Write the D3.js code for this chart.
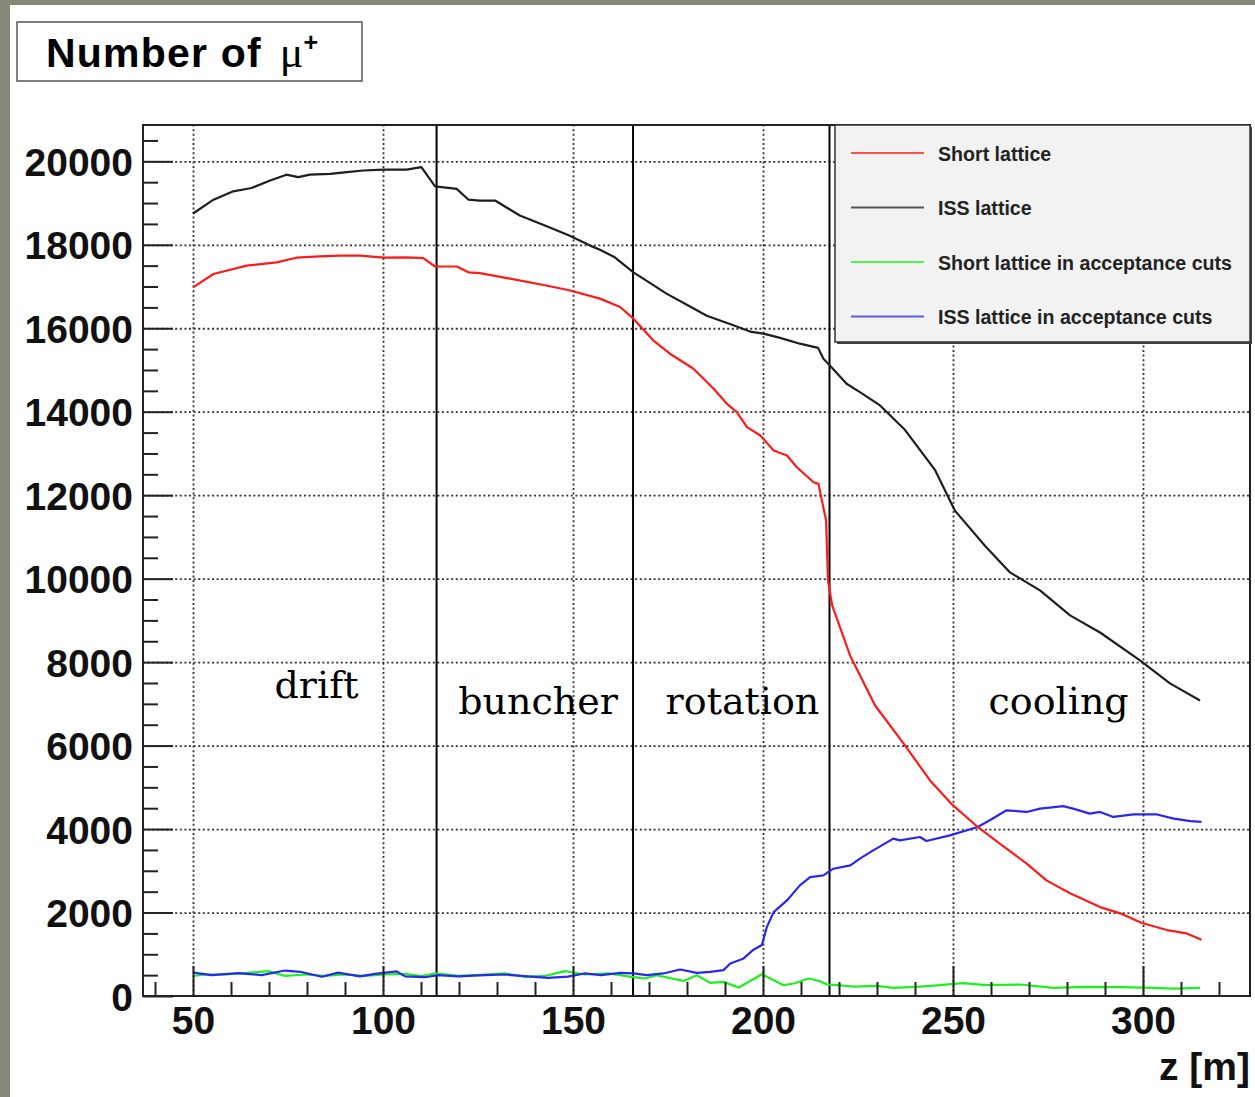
<!DOCTYPE html>
<html>
<head>
<meta charset="utf-8">
<script src="https://cdn.jsdelivr.net/npm/d3@7/dist/d3.min.js"></script>
<style>
    body { margin: 0; background: #fff; }
    svg { display: block; }
    .tick-label { font-family: "Liberation Sans", Arial, sans-serif; font-weight: bold; fill: #111; }
    .region { font-family: "DejaVu Serif", serif; font-size: 38px; fill: #000; }
    .legend-text { font-family: "Liberation Sans", Arial, sans-serif; font-weight: bold; font-size: 19.6px; fill: #222; }
</style>
</head>
<body>
<svg id="chart"></svg>
<script>
// Series: z position [m] and number of mu+
const shortZ = [50, 55.4, 64.1, 72, 77.2, 83.4, 88.7, 94, 100.1, 106.2, 110.6, 113.7, 119.4, 122.5, 125.5, 133.4, 142.6, 149, 157.1, 162.4, 165.9, 171.1, 175.5, 181.7, 187, 190.5, 193.1, 195.8, 199.3, 202.8, 206.3, 208.9, 213.3, 214.6, 215.5, 216.6, 217.1, 218.2, 222.9, 229.5, 237.4, 243.9, 249.5, 256.5, 262.3, 269.4, 274.6, 280.8, 288.7, 294, 299.7, 306.3, 311.5, 315.4];
const shortN = [16980, 17300, 17500, 17580, 17690, 17720, 17740, 17740, 17690, 17700, 17680, 17480, 17480, 17340, 17320, 17190, 17030, 16910, 16710, 16510, 16230, 15710, 15390, 15030, 14550, 14190, 13990, 13630, 13430, 13070, 12950, 12670, 12310, 12270, 11870, 11400, 9960, 9360, 8160, 6960, 6000, 5170, 4610, 4050, 3650, 3170, 2770, 2460, 2130, 1980, 1750, 1580, 1500, 1350];

const issZ = [50, 55.4, 60.6, 65.4, 70.3, 74.6, 77.7, 80.8, 86.1, 90.5, 94.8, 100, 106.2, 110.1, 113.7, 119.4, 122.5, 125.5, 129.5, 136, 142.6, 149, 154.5, 157.1, 161, 165.9, 168.5, 174.6, 180.8, 185.2, 192.2, 196.6, 200.1, 204.5, 209.7, 214.5, 215.9, 217.6, 222, 225.5, 230.8, 237.4, 245.3, 250.5, 258.4, 265, 272.9, 280.8, 288.7, 299.2, 307.1, 315];
const issN = [18750, 19080, 19280, 19360, 19540, 19680, 19620, 19680, 19700, 19740, 19780, 19800, 19800, 19860, 19400, 19340, 19080, 19060, 19060, 18700, 18460, 18220, 17980, 17880, 17700, 17340, 17190, 16830, 16520, 16300, 16070, 15920, 15870, 15770, 15630, 15530, 15270, 15110, 14670, 14470, 14150, 13560, 12600, 11630, 10790, 10150, 9720, 9120, 8710, 8040, 7490, 7080];

const shortCutZ = [50.1, 53.2, 58.4, 62.8, 69.8, 74.2, 79.5, 84.7, 90, 95.3, 100.5, 105.8, 110.2, 113.7, 119.8, 126.8, 132.1, 137.4, 142.6, 147.9, 153.2, 159.3, 165.4, 168.9, 172, 179.1, 182.6, 186.1, 189.6, 193.6, 199.7, 205.4, 208.1, 212, 215, 216.9, 219.5, 223.8, 229.9, 234.3, 240.4, 246.6, 252.7, 258.9, 267.6, 276.4, 285.2, 294, 302.7, 308, 315];
const shortCutN = [480, 515, 515, 540, 595, 480, 515, 480, 515, 480, 515, 530, 480, 545, 480, 515, 540, 460, 480, 595, 515, 540, 460, 420, 498, 362, 498, 314, 338, 203, 522, 259, 299, 419, 354, 275, 260, 227, 243, 195, 219, 259, 307, 259, 275, 195, 219, 211, 195, 179, 195];

const issCutZ = [50.1, 54.9, 61.9, 68.1, 74.2, 78.2, 83.9, 88.2, 93.9, 97.9, 103.6, 105.8, 111, 114.5, 119.8, 126.8, 132, 136.4, 143.4, 148.6, 153, 157.4, 162.4, 165.9, 169.4, 173.8, 178.2, 182.6, 186.1, 189.6, 191.4, 194.9, 197.5, 199.7, 201, 202.8, 206.3, 209.7, 212.4, 215.9, 218.5, 223, 225.5, 229, 234.3, 236, 241.3, 243, 249.2, 256.5, 259.7, 264.1, 269.4, 272.9, 279, 281.6, 286, 288.7, 292.2, 297.5, 303.7, 308.1, 312.5, 315.4];
const issCutN = [560, 500, 550, 500, 610, 580, 460, 560, 470, 530, 590, 470, 450, 500, 470, 500, 515, 480, 435, 465, 540, 500, 555, 540, 500, 540, 635, 555, 580, 620, 780, 900, 1110, 1220, 1650, 2010, 2290, 2650, 2850, 2890, 3050, 3130, 3290, 3490, 3770, 3730, 3810, 3715, 3850, 4050, 4210, 4450, 4410, 4490, 4550, 4490, 4370, 4410, 4290, 4350, 4350, 4250, 4190, 4170];

const seriesNames = ['Short lattice', 'ISS lattice', 'Short lattice in acceptance cuts', 'ISS lattice in acceptance cuts'];
const seriesColors = ['#ff1a1a', '#1e1e1e', '#1ef01e', '#2828f0'];

// Section boundaries and names
const sectionEdges = [114.1, 165.8, 217.5];
const sectionNames = ['drift', 'buncher', 'rotation', 'cooling'];

// Axis ticks
const xMajor = [50, 100, 150, 200, 250, 300];
const xMinor = d3.range(40, 330, 10).filter(v => v % 50 !== 0);
const yMajor = d3.range(0, 20001, 2000);
const yMinor = d3.range(500, 20900, 500).filter(v => v % 2000 !== 0);

// Layout
const W = 1255, H = 1097;
const frame = {left: 143, right: 1250, top: 125, bottom: 996};

const svg = d3.select('#chart')
    .attr('width', W)
    .attr('height', H);

// page background with grey border strip
svg.append('rect').attr('width', W).attr('height', H).attr('fill', '#868879');
svg.append('rect').attr('x', 10).attr('y', 5).attr('width', W - 10).attr('height', H - 5).attr('fill', '#fff');

const xScale = d3.scaleLinear().domain([36.84, 328.16]).range([frame.left, frame.right]);
const yScale = d3.scaleLinear().domain([0, 20870]).range([frame.bottom, frame.top]);

// grid
const gridX = svg.append('g')
    .attr('transform', `translate(0,${frame.bottom})`)
    .call(d3.axisBottom(xScale).tickValues(xMajor).tickSize(-(frame.bottom - frame.top)).tickFormat(''));
const gridY = svg.append('g')
    .attr('transform', `translate(${frame.left},0)`)
    .call(d3.axisLeft(yScale).tickValues(yMajor.filter(v => v > 0)).tickSize(-(frame.right - frame.left)).tickFormat(''));
[gridX, gridY].forEach(g => {
    g.select('.domain').remove();
    g.selectAll('line')
        .attr('stroke', '#333')
        .attr('stroke-width', 1.8)
        .attr('stroke-dasharray', '2,2.6');
});

// section separators
svg.append('g').selectAll('line')
    .data(sectionEdges)
    .enter().append('line')
    .attr('x1', d => xScale(d)).attr('x2', d => xScale(d))
    .attr('y1', frame.top).attr('y2', frame.bottom)
    .attr('stroke', '#000')
    .attr('stroke-width', 2);

// section labels (anchor positions in data units)
const labelZ = [82.5, 140.8, 194.6, 277.8];
const labelN = [7140, 6760, 6760, 6760];
svg.append('g').selectAll('text')
    .data(sectionNames)
    .enter().append('text')
    .attr('class', 'region')
    .attr('x', (d, i) => xScale(labelZ[i]))
    .attr('y', (d, i) => yScale(labelN[i]))
    .attr('text-anchor', 'middle')
    .text(d => d);

// lines
const line = d3.line()
    .x(d => xScale(d[0]))
    .y(d => yScale(d[1]));

const seriesData = [
    d3.zip(shortZ, shortN),
    d3.zip(issZ, issN),
    d3.zip(shortCutZ, shortCutN),
    d3.zip(issCutZ, issCutN)
];
// draw cut series first so the main curves sit above
[2, 3, 0, 1].forEach(i => {
    svg.append('path')
        .datum(seriesData[i])
        .attr('d', line)
        .attr('fill', 'none')
        .attr('stroke', seriesColors[i])
        .attr('stroke-width', 2.2)
        .attr('stroke-linejoin', 'round');
});

// axes
const xAxis = svg.append('g')
    .attr('transform', `translate(0,${frame.bottom})`)
    .call(d3.axisBottom(xScale).tickValues(xMajor).tickSize(-30).tickPadding(10).tickFormat(d3.format('d')));
const xAxisMinor = svg.append('g')
    .attr('transform', `translate(0,${frame.bottom})`)
    .call(d3.axisBottom(xScale).tickValues(xMinor).tickSize(-14).tickFormat(''));
const yAxis = svg.append('g')
    .attr('transform', `translate(${frame.left},0)`)
    .call(d3.axisLeft(yScale).tickValues(yMajor).tickSize(-30).tickPadding(10).tickFormat(d3.format('d')));
const yAxisMinor = svg.append('g')
    .attr('transform', `translate(${frame.left},0)`)
    .call(d3.axisLeft(yScale).tickValues(yMinor).tickSize(-15).tickFormat(''));

[xAxis, xAxisMinor, yAxis, yAxisMinor].forEach(g => {
    g.select('.domain').remove();
    g.selectAll('line').attr('stroke', '#222').attr('stroke-width', 2);
    g.selectAll('text').attr('class', 'tick-label').style('font-size', '39px');
});
yAxis.selectAll('text').attr('dy', '0.36em');

// frame
svg.append('rect')
    .attr('x', frame.left).attr('y', frame.top)
    .attr('width', frame.right - frame.left)
    .attr('height', frame.bottom - frame.top)
    .attr('fill', 'none')
    .attr('stroke', '#222')
    .attr('stroke-width', 2);

// x axis title
svg.append('text')
    .attr('class', 'tick-label')
    .attr('x', frame.right)
    .attr('y', 1080)
    .attr('text-anchor', 'end')
    .style('font-size', '39px')
    .text('z [m]');

// title box
svg.append('rect')
    .attr('x', 17).attr('y', 22)
    .attr('width', 345).attr('height', 59)
    .attr('fill', '#fff')
    .attr('stroke', '#555')
    .attr('stroke-width', 1.5);
const title = svg.append('text')
    .attr('x', 46).attr('y', 67)
    .attr('fill', '#000');
title.append('tspan')
    .attr('font-family', 'Liberation Sans, Arial, sans-serif')
    .attr('font-weight', 'bold')
    .attr('font-size', 41)
    .attr('letter-spacing', 1.2)
    .text('Number of');
title.append('tspan')
    .attr('font-family', 'Liberation Serif, serif')
    .attr('font-size', 44)
    .attr('dx', 18)
    .text('\u03bc');
title.append('tspan')
    .attr('font-family', 'Liberation Sans, Arial, sans-serif')
    .attr('font-weight', 'bold')
    .attr('font-size', 25)
    .attr('dy', -16)
    .text('+');

// legend
const legend = svg.append('g').attr('transform', 'translate(835,125)');
legend.append('rect')
    .attr('x', 2).attr('y', 2)
    .attr('width', 415).attr('height', 217)
    .attr('fill', '#444');
legend.append('rect')
    .attr('width', 415).attr('height', 217)
    .attr('fill', '#f2f2f2')
    .attr('stroke', '#333')
    .attr('stroke-width', 1.5);
seriesNames.forEach((name, i) => {
    const ly = 28 + i * 54.5;
    legend.append('line')
        .attr('x1', 16).attr('x2', 89)
        .attr('y1', ly).attr('y2', ly)
        .attr('stroke', seriesColors[i])
        .attr('stroke-opacity', 0.75)
        .attr('stroke-width', 2);
    legend.append('text')
        .attr('class', 'legend-text')
        .attr('x', 103)
        .attr('y', ly + 7.5)
        .text(name);
});
</script>
</body>
</html>
